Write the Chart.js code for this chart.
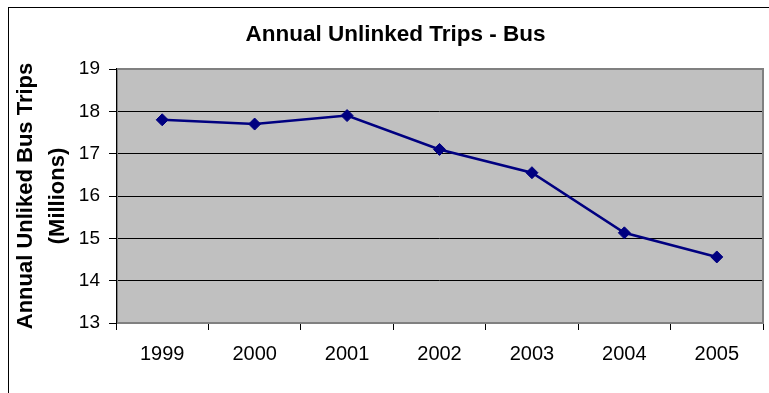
<!DOCTYPE html>
<html>
<head>
<meta charset="utf-8">
<title>Annual Unlinked Trips - Bus</title>
<script src="https://cdn.jsdelivr.net/npm/chart.js@4"></script>
<style>
  html, body { margin: 0; padding: 0; background: #fff; overflow: hidden; }
</style>
</head>
<body>
<canvas id="busChart" width="791" height="393"></canvas>
<script>
const years = ["1999", "2000", "2001", "2002", "2003", "2004", "2005"];
const busTrips = [17.8, 17.7, 17.9, 17.1, 16.55, 15.13, 14.56];
const yAxisTitle = ["Annual Unliked Bus Trips", "(Millions)"];

Chart.defaults.font.family = "'Liberation Sans', Arial, sans-serif";
Chart.defaults.color = "#000";

// gray plot area, its border and the outer chart frame
const plotArea = {
  id: "plotArea",
  beforeDraw(chart) {
    const { ctx, chartArea: a } = chart;
    ctx.save();
    ctx.fillStyle = "#fff";
    ctx.fillRect(0, 0, chart.width, chart.height);
    ctx.fillStyle = "#c0c0c0";
    ctx.fillRect(a.left, a.top, a.width, a.height);
    ctx.restore();
  },
  beforeDatasetsDraw(chart) {
    const { ctx, chartArea: a } = chart;
    ctx.save();
    ctx.strokeStyle = "#808080";
    ctx.lineWidth = 2;
    ctx.strokeRect(a.left + 1, a.top, a.width - 1, a.height);
    ctx.strokeStyle = "#000";
    ctx.lineWidth = 1;
    ctx.beginPath();
    ctx.moveTo(a.left + 0.5, a.top - 1);
    ctx.lineTo(a.left + 0.5, a.bottom + 1);
    ctx.stroke();
    ctx.restore();
  },
  afterDraw(chart) {
    const ctx = chart.ctx;
    ctx.save();
    ctx.strokeStyle = "#000";
    ctx.lineWidth = 1;
    ctx.strokeRect(8.5, 7.5, 774, 420);
    ctx.restore();
  },
};

new Chart(document.getElementById("busChart"), {
  type: "line",
  data: {
    labels: years,
    datasets: [
      {
        data: busTrips,
        borderColor: "#000080",
        backgroundColor: "#000080",
        borderWidth: 2.5,
        pointStyle: "rectRot",
        pointRadius: 6,
        pointBorderWidth: 1,
        tension: 0,
        fill: false,
      },
    ],
  },
  options: {
    responsive: false,
    animation: false,
    layout: { padding: 0 },
    plugins: {
      legend: { display: false },
      tooltip: { enabled: false },
      title: {
        display: true,
        text: "Annual Unlinked Trips - Bus",
        font: { size: 22.5, weight: "bold" },
        padding: { top: 21, bottom: 21 },
        color: "#000",
      },
    },
    scales: {
      x: {
        offset: true,
        grid: {
          offset: true,
          drawOnChartArea: false,
          tickLength: 7,
          color: "#000",
        },
        border: { display: false },
        ticks: {
          padding: 12,
          font: { size: 20 },
          maxRotation: 0,
          autoSkip: false,
        },
        afterFit: (s) => {
          s.height = 70;
        },
      },
      y: {
        min: 13,
        max: 19,
        grid: { color: "#000", tickLength: 7, tickColor: "#000" },
        border: { display: false },
        ticks: { stepSize: 1, padding: 9, font: { size: 19 } },
        title: {
          display: true,
          text: yAxisTitle,
          font: { size: 22, weight: "bold", lineHeight: 1.45 },
          padding: { top: 10, bottom: 0 },
          color: "#000",
        },
        afterFit: (s) => {
          s.width = 116;
        },
      },
      // empty right-hand strip so the plot ends before the frame edge
      pad: {
        position: "right",
        display: true,
        grid: { display: false },
        border: { display: false },
        ticks: { display: false },
        afterFit: (s) => {
          s.width = 28;
        },
      },
    },
  },
  plugins: [plotArea],
});
</script>
</body>
</html>
